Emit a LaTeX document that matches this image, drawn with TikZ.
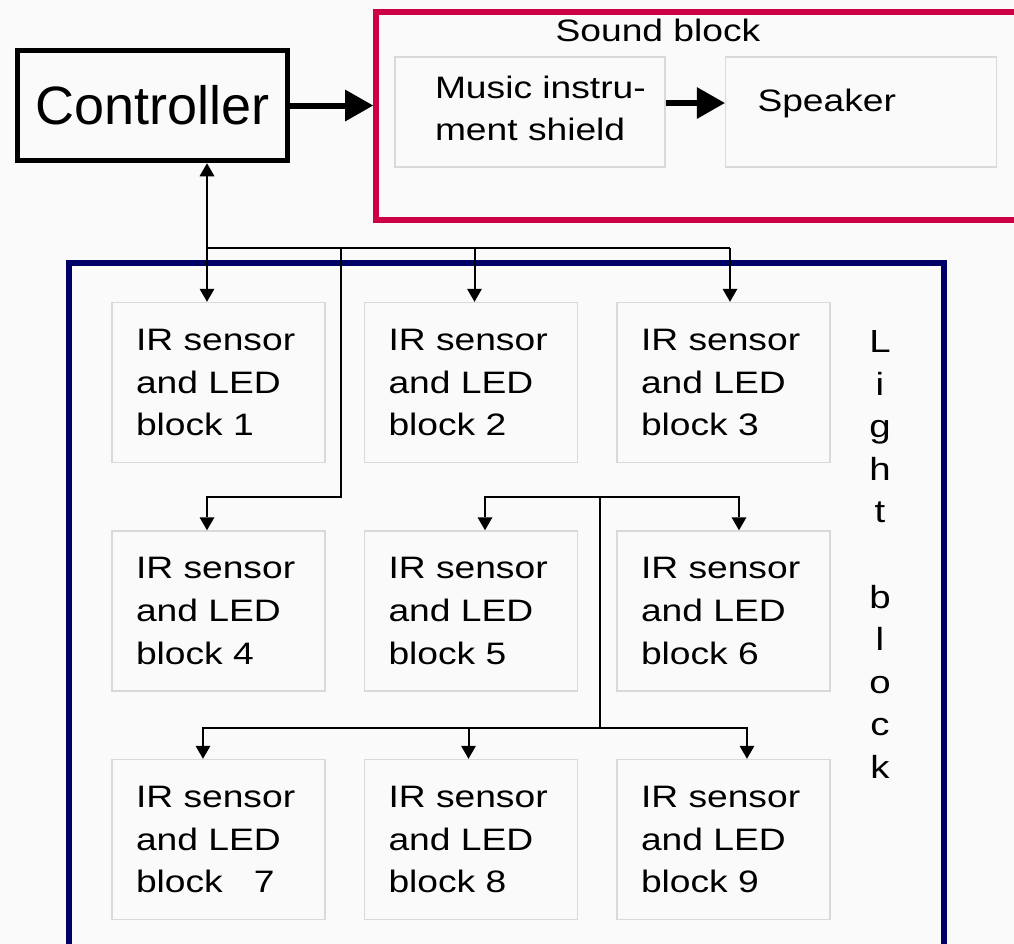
\documentclass[tikz,border=0pt]{standalone}
\usepackage{fontspec}
\setmainfont{Liberation Sans}[FakeStretch=1.2]
\newfontfamily\ctrlfont{Liberation Sans}
\usetikzlibrary{arrows.meta,positioning}
\definecolor{soundred}{HTML}{CC0044}
\definecolor{lightnavy}{HTML}{000066}
\definecolor{boxgray}{HTML}{D9D9D9}
\definecolor{paper}{HTML}{FAFAFA}

\begin{document}
\begin{tikzpicture}[
  x=0.5pt, y=-0.5pt,
  node distance=33.5pt and 19pt,
  txt/.style={font=\fontsize{15.5pt}{21.3pt}\selectfont},
  irbox/.style={txt, draw=boxgray, line width=0.75pt, align=left, text width=82.5pt, inner xsep=12pt, inner ysep=0pt, minimum height=80pt},
  ctrlbox/.style={draw, line width=2.75pt, minimum width=135pt, minimum height=55pt, font=\ctrlfont\fontsize{27pt}{32pt}\selectfont},
  blockframe/.style={line width=3pt, inner sep=0pt},
  wire/.style={line width=1pt},
  arrow/.style={wire, -{Triangle[length=6.5pt, width=7.5pt, line width=0pt]}},
  bigarrow/.style={line width=3pt, -{Triangle[length=14pt, width=16pt, line width=0pt]}}
]
\useasboundingbox (0,0) rectangle (1014,944);
\clip (0,0) rectangle (1014,944);
\fill[paper] (0,0) rectangle (1014,944);

% outer blocks
\node[blockframe, draw=soundred, minimum width=332pt, minimum height=104.25pt] (sound) at (708,115.75) {};
\node[blockframe, draw=lightnavy, minimum width=437.75pt, minimum height=368.75pt] (light) at (506.25,631.25) {};
\node[txt] (soundlbl) at (658,30) {Sound block};
\node[txt, align=center, anchor=north, inner sep=0pt, font=\fontsize{16pt}{21.3pt}\selectfont] (lightlbl) at (880,330) {L\\i\\g\\h\\t\\\mbox{}\\b\\l\\o\\c\\k};

\node[ctrlbox] (ctrl) at (152.5,105.5) {Controller};
\node[irbox, text width=95pt, inner xsep=20pt, minimum height=55pt, text depth=25pt] (music) at (530,112) {\mbox{Music instru-}\\\mbox{ment shield}};
\node[irbox, text width=103.5pt, inner xsep=16pt, minimum height=55pt, text depth=12pt, right=29.5pt of music] (speaker) {Speaker};

% sensor grid
\node[irbox] (ir1) at (218.5,382.5) {IR sensor\\and LED\\block 1};
\node[irbox, right=of ir1] (ir2) {IR sensor\\and LED\\block 2};
\node[irbox, right=of ir2] (ir3) {IR sensor\\and LED\\block 3};
\node[irbox, below=of ir1] (ir4) {IR sensor\\and LED\\block 4};
\node[irbox, right=of ir4] (ir5) {IR sensor\\and LED\\block 5};
\node[irbox, right=of ir5] (ir6) {IR sensor\\and LED\\block 6};
\node[irbox, below=of ir4] (ir7) {IR sensor\\and LED\\block\ \ \ 7};
\node[irbox, right=of ir7] (ir8) {IR sensor\\and LED\\block 8};
\node[irbox, right=of ir8] (ir9) {IR sensor\\and LED\\block 9};

% bus points
\coordinate (top1) at (207,248);
\coordinate (top3) at (730,248);
\coordinate (branch) at (341,248);
\coordinate (spine) at (600,497);
\coordinate (mid5) at (485,497);
\coordinate (mid6) at (739,497);
\coordinate (low7) at (203,728);
\coordinate (low9) at (747,728);

\draw[bigarrow] (ctrl) -- (ctrl -| sound.west);
\draw[bigarrow] ([yshift=4.5pt]music.east) -- ([yshift=4.5pt]speaker.west);

\draw[wire, {Triangle[length=6.5pt, width=7.5pt, line width=0pt]}-{Triangle[length=6.5pt, width=7.5pt, line width=0pt]}] (ctrl.south -| top1) -- (ir1.north -| top1);
\draw[wire] (top1) -- (top3);
\draw[arrow] ([xshift=1.75pt]ir2.north |- top1) -- ([xshift=1.75pt]ir2.north);
\draw[arrow] (top3) -- (ir3.north -| top3);
\draw[arrow] (branch) -- (branch |- spine) -| (ir4.north -| top1);

\draw[arrow] (spine) -| (ir5.north -| mid5);
\draw[arrow] (spine) -| (ir6.north -| mid6);
\draw[wire] (spine) -- (spine |- low7);
\draw[arrow] (spine |- low7) -| (ir7.north -| low7);
\draw[arrow] (spine |- low7) -| (ir9.north -| low9);
\draw[arrow] ([xshift=-1.25pt]ir8.north |- low7) -- ([xshift=-1.25pt]ir8.north);
\end{tikzpicture}
\end{document}
